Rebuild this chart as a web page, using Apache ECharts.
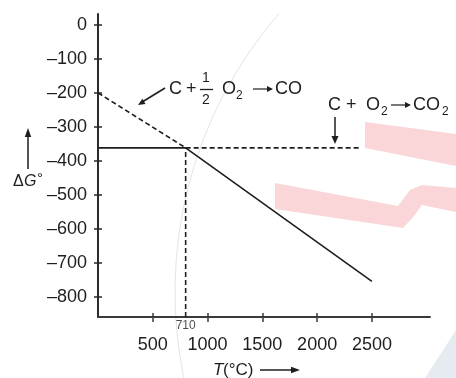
<!DOCTYPE html>
<html>
<head>
<meta charset="utf-8">
<script src="https://cdn.jsdelivr.net/npm/echarts@6/dist/echarts.min.js"></script>
<style>
  html, body { margin: 0; padding: 0; background: #fff; }
  #chart { width: 456px; height: 378px; }
</style>
</head>
<body>
<div id="chart"></div>
<script>
// axis ticks
const tempTicks = [500, 1000, 1500, 2000, 2500];
const gibbsTicks = [0, -100, -200, -300, -400, -500, -600, -700, -800];

// lines, [T, dG]
const coDashed = [[0, -200], [800, -362]];        // C + 1/2 O2 -> CO, above crossing
const co2Solid = [[0, -362], [800, -362]];        // C + O2 -> CO2, below crossing
const co2Dashed = [[800, -362], [2390, -362]];
const coSolid = [[800, -362], [2500, -755]];
const crossDrop = [[800, -860], [800, -362]];
const crossLabel = ['710'];

const FONT = '"Liberation Sans", Arial, Helvetica, sans-serif';
const INK = '#1e1e1e';

const chart = echarts.init(document.getElementById('chart'), null, { renderer: 'canvas' });

const dash = (name, data, type) => ({
  name: name,
  type: 'line',
  data: data,
  symbol: 'none',
  silent: true,
  clip: false,
  lineStyle: { color: INK, width: 1.6, type: type }
});

const txt = (text, x, y, size, extra) => ({
  type: 'text',
  z: 10,
  style: Object.assign({
    text: text, x: x, y: y,
    font: size + 'px ' + FONT,
    fill: INK,
    align: 'left', textAlign: 'left',
    verticalAlign: 'middle', textVerticalAlign: 'middle'
  }, extra || {})
});

const seg = (pts, w) => ({
  type: 'polyline', z: 10,
  shape: { points: pts },
  style: { stroke: INK, lineWidth: w || 1.5, fill: null }
});

const head = (pts) => ({
  type: 'polygon', z: 10,
  shape: { points: pts },
  style: { fill: INK }
});

// small reaction arrow, x0 -> x1 at height y
const rArrow = (x0, x1, y) => [
  seg([[x0, y], [x1 - 4, y]], 1.2),
  head([[x1, y], [x1 - 6, y - 3], [x1 - 6, y + 3]])
];

const option = {
  animation: false,
  backgroundColor: '#fff',
  grid: { left: 98, right: 26, top: 14, bottom: 61, containLabel: false, outerBoundsMode: 'none' },
  xAxis: [
    {
      type: 'value', min: 0, max: 3030, position: 'bottom',
      splitLine: { show: false },
      axisLine: { onZero: false, lineStyle: { color: '#3a3a3a', width: 2 } },
      axisTick: { customValues: tempTicks, length: 5, lineStyle: { color: '#3a3a3a', width: 1.5 } },
      axisLabel: {
        customValues: tempTicks, margin: 19,
        fontSize: 18, fontFamily: FONT, color: INK,
        formatter: v => String(v)
      }
    },
    {
      type: 'value', min: 0, max: 3030, position: 'bottom',
      splitLine: { show: false },
      axisLine: { show: false, onZero: false },
      axisTick: { customValues: tempTicks, inside: true, length: 4, lineStyle: { color: '#3a3a3a', width: 1.5 } },
      axisLabel: { show: false }
    }
  ],
  yAxis: [
    {
      type: 'value', min: -860, max: 32, position: 'left',
      splitLine: { show: false },
      axisLine: { show: true, onZero: false, lineStyle: { color: '#2a2a2a', width: 2 } },
      axisTick: { show: true, customValues: gibbsTicks, length: 4, lineStyle: { color: '#2a2a2a', width: 1.5 } },
      axisLabel: {
        customValues: gibbsTicks, margin: 11,
        fontSize: 18, fontFamily: FONT, color: INK,
        formatter: v => (v < 0 ? '\u2013' + (-v) : String(v))
      }
    },
    {
      type: 'value', min: -860, max: 32, position: 'left',
      splitLine: { show: false },
      axisLine: { show: false, onZero: false },
      axisTick: { show: true, customValues: gibbsTicks, inside: true, length: 4, lineStyle: { color: '#2a2a2a', width: 1.5 } },
      axisLabel: { show: false }
    }
  ],
  series: [
    dash('CO', coDashed, [5, 3]),
    dash('CO2', co2Solid, 'solid'),
    dash('CO2 ext', co2Dashed, [5, 3]),
    dash('CO ext', coSolid, 'solid'),
    dash('710', crossDrop, [5, 3]),
    {
      type: 'scatter',
      data: [[crossDrop[0][0], crossDrop[0][1]]],
      symbolSize: 0,
      clip: false,
      silent: true,
      label: {
        show: true, position: 'bottom', distance: 3,
        formatter: () => crossLabel[0],
        fontSize: 12, fontFamily: FONT, color: INK
      }
    }
  ],
  graphic: [
    // background marks of the scanned page
    { type: 'arc', z: 0, silent: true,
      shape: { cx: 600, cy: 292, r: 425, startAngle: 168 * Math.PI / 180, endAngle: 221 * Math.PI / 180, clockwise: true },
      style: { stroke: '#e4e4e4', lineWidth: 1, fill: null } },
    { type: 'polygon', z: 0, silent: true,
      shape: { points: [[365, 122], [456, 134], [456, 166], [365, 148]] },
      style: { fill: '#fad6d8' } },
    { type: 'polygon', z: 0, silent: true,
      shape: { points: [[275, 183], [398, 206], [410, 190], [422, 185], [456, 188], [456, 212], [422, 205], [414, 216], [403, 228], [275, 209]] },
      style: { fill: '#fad6d8' } },
    { type: 'polygon', z: 0, silent: true,
      shape: { points: [[456, 330], [425, 378], [456, 378]] },
      style: { fill: '#e6ebf1' } },

    // C + 1/2 O2 -> CO
    seg([[165, 88], [143, 101.5]], 1.6),
    head([[138, 105], [145.5, 104], [142.4, 98.8]]),
    txt('C', 169, 89, 18),
    txt('+', 186, 89, 18),
    txt('1', 206, 78, 14, { align: 'center', textAlign: 'center' }),
    { type: 'line', z: 10, shape: { x1: 200, y1: 89.5, x2: 213, y2: 89.5 }, style: { stroke: INK, lineWidth: 1.3 } },
    txt('2', 206, 100, 14, { align: 'center', textAlign: 'center' }),
    txt('O', 222, 89, 18),
    txt('2', 236, 96, 12),
    ...rArrow(253, 273, 89),
    txt('CO', 275, 89, 18),

    // C + O2 -> CO2
    txt('C', 328, 105, 18),
    txt('+', 346, 105, 18),
    txt('O', 366, 105, 18),
    txt('2', 381, 112, 12),
    ...rArrow(391, 411, 105),
    txt('CO', 413, 105, 18),
    txt('2', 442, 112, 12),
    seg([[335, 117], [335, 137]], 1.5),
    head([[335, 144], [331.5, 136], [338.5, 136]]),

    // y name
    seg([[28, 169], [28, 135]], 1.5),
    head([[28, 128], [24.8, 137], [31.2, 137]]),
    txt('\u0394', 13, 182, 16),
    txt('G', 24, 182, 16, { font: 'italic 16px ' + FONT }),
    txt('\u00b0', 37, 179, 15),

    // x name
    txt('T', 213, 370, 17, { font: 'italic 17px ' + FONT }),
    txt('(\u00b0C)', 223, 370, 17),
    seg([[260, 370], [293, 370]], 1.5),
    head([[300, 370], [291, 366.8], [291, 373.2]])
  ]
};

chart.setOption(option);
</script>
</body>
</html>
